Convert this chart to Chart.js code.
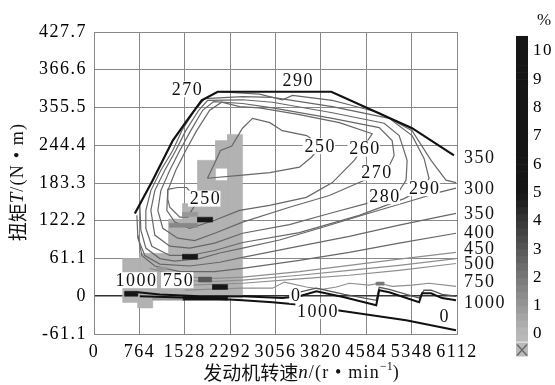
<!DOCTYPE html>
<html><head><meta charset="utf-8">
<script src="https://cdn.jsdelivr.net/npm/chart.js@4/dist/chart.umd.min.js"></script>
<style>html,body{margin:0;padding:0;background:#fff;}#wrap{width:555px;height:385px;}</style>
</head><body><div id="wrap"><canvas id="c" width="555" height="385"></canvas></div>
<script>
// ---- axes ----
const xTicks = [0, 764, 1528, 2292, 3056, 3820, 4584, 5348, 6112];
const yTickValues = [-61.1, 0, 61.1, 122.2, 183.3, 244.4, 305.5, 366.6, 427.7];
const yTickLabels = ['-61.1', '0', '61.1', '122.2', '183.3', '244.4', '355.5', '366.6', '427.7'];
const cbTicks = [0, 1, 2, 3, 4, 5, 6, 7, 8, 9, 10];

// ---- full-load torque curve ----
const maxTqN = [688, 991, 1326, 1561, 1813, 2082, 3996, 5356, 6061];
const maxTqT = [134, 188, 252, 284, 317, 331, 331, 272, 228];

// ---- BSFC contours (g/kWh) ----
const c250aN = [1713, 1561, 1410, 1242, 1242, 1276, 1444, 1578, 1645, 1713, 1713];
const c250aT = [158, 176, 176, 173, 157, 144, 128, 128, 139, 149, 158];
const c250bN = [1910, 2030, 2130, 2320, 2500, 2670, 2960, 3170, 3580, 3830, 3660, 3460, 2960, 2500, 1910];
const c250bT = [191, 215, 236, 243, 272, 288, 281, 268, 260, 244, 225, 209, 200, 196, 191];
const c260N = [2451, 2955, 3576, 4013, 4382, 4500, 4684, 4130, 3459, 2787, 2451, 2149, 1948, 1729, 1545, 1377, 1242, 1226, 1360, 1612, 2032, 2451];
const c260T = [139, 147, 160, 184, 220, 236, 263, 281, 294, 305, 307, 314, 301, 268, 236, 204, 171, 139, 120, 110, 123, 139];
const c270N = [2502, 2032, 1696, 1410, 1159, 1075, 1125, 1276, 1444, 1629, 1830, 2015, 2502, 3005, 4013, 4802, 5020, 5054, 4936, 4466, 3962, 3291, 2502];
const c270T = [120, 102, 90, 94, 110, 139, 171, 204, 236, 268, 301, 315, 312, 305, 288, 273, 252, 228, 204, 184, 163, 144, 120];
const c280N = [2502, 2032, 1612, 1276, 1024, 957, 1024, 1192, 1377, 1545, 1763, 1914, 2502, 3005, 4013, 4886, 5138, 5272, 5255, 5104, 4550, 3962, 3291, 2502];
const c280T = [102, 86, 78, 81, 99, 139, 171, 204, 236, 268, 301, 317, 318, 314, 297, 280, 260, 220, 188, 165, 149, 134, 116, 102];
const c290N = [2502, 2032, 1612, 1276, 974, 873, 873, 957, 1125, 1326, 1478, 1696, 1864, 2502, 3005, 4013, 4970, 5356, 5557, 5641, 5557, 5222, 4466, 3459, 2502];
const c290T = [87, 74, 66, 66, 81, 110, 139, 171, 204, 236, 268, 301, 320, 323, 322, 307, 288, 260, 223, 191, 175, 158, 131, 103, 87];
const c300aN = [2082, 2787, 3173, 3341, 4013, 4298, 4802, 5356, 5675, 5927, 6095];
const c300aT = [331, 327, 318, 325, 317, 310, 297, 268, 220, 188, 184];
const c300bN = [772, 789, 873, 1108, 1360, 1780, 2116, 2502, 3123, 3795, 4684, 5356, 5809, 6095];
const c300bT = [147, 107, 78, 61, 57, 61, 70, 78, 91, 110, 136, 155, 168, 175];
const c350N = [722, 739, 856, 1108, 1612, 2116, 2502, 3459, 4298, 5138, 6095];
const c350T = [131, 94, 66, 52, 49, 55, 63, 81, 97, 115, 134];
const c400N = [739, 806, 1024, 1444, 2032, 2502, 3459, 4298, 5138, 6095];
const c400T = [99, 66, 49, 40, 40, 45, 58, 71, 86, 102];
const c450N = [940, 1444, 2032, 2502, 3459, 4298, 5138, 6095];
const c450T = [45, 32, 29, 31, 40, 50, 60, 71];
const c500N = [1276, 2032, 2502, 3459, 4298, 5138, 6095];
const c500T = [26, 24, 26, 34, 42, 50, 61];
const c500bN = [1612, 2502, 3459, 4298, 5138, 6095];
const c500bT = [18, 21, 28, 34, 42, 53];
const c750N = [1528, 2502, 3005, 3207, 3576, 3845, 4080, 4298, 4634, 4802, 5020, 5356, 5641, 6095];
const c750T = [10, 13, 13, 23, 15, 11, 15, 21, 18, 21, 16, 18, 21, 16];
const c1000N = [3459, 3744, 4214, 4752, 4802, 4970, 5474, 5557, 5675, 5860, 6095];
const c1000T = [6.5, 13, 3, -6.5, 14.5, 11, -3, 9.7, 9.7, 3, 0];
const c0N = [739, 1108, 1780, 2502, 3173, 3459, 3744, 4214, 4752, 4802, 4970, 5474, 5524, 5675, 5860, 6095];
const c0T = [6.5, 3, 0, 0, -3, 0, 8, -1.6, -14.5, 9.7, 6.5, -9.7, 4.8, 4.8, -3, -6.5];
const motorN = [772, 1780, 2502, 3005, 3375, 4097, 5255, 6095];
const motorT = [0, -3, -6.5, -9.7, -13, -22.6, -38.8, -55];

// ---- operating-point time share cells (%) ----
const heatN0 = [2250, 2048, 2048, 1746, 1494, 1259, 772, 487, 739, 487, 990, 1746, 1276, 1494, 1494, 1763, 1998, 520, 1494, 4752, 1058];
const heatN1 = [2502, 2250, 2250, 2048, 1746, 1494, 1259, 772, 990, 739, 1494, 1998, 1746, 1746, 1746, 1981, 2250, 739, 2250, 4886, 1226];
const heatT0 = [-3, 207, -3, -3, -3, -3, -3, -3, -19, -10, -6.5, 120, 111.5, 129, 60, 23, 11, 0, -6.5, 18, 42];
const heatT1 = [262, 252, 187.5, 220, 150, 125, 69.5, 61, 0, 0, 0, 128, 118, 136, 68, 31, 19, 8, 0, 23, 47];
const heatPct = [0.2, 0.2, 0.2, 0.2, 0.2, 0.2, 0.2, 0.2, 0.2, 0.2, 1, 7, 1.5, 1, 10, 3, 9, 10, 6, 2, 1];

// ---- contour labels ----
const inLabelText = ['270', '290', '250', '260', '270', '280', '290', '250', '1000', '750', '0', '1000', '0'];
const inLabelN = [1561, 3425, 3795, 4550, 4752, 4886, 5557, 1864, 705, 1410, 3392, 3761, 5893];
const inLabelT = [335, 349, 243, 239, 200, 162, 175, 158, 26, 26, 1.6, -24, -32];
const rightLabelText = ['350', '300', '350', '400', '450', '500', '750', '1000'];
const rightLabelT = [225, 175, 134, 103, 78, 53, 24, -10];

const SERIF = '"Liberation Serif", "Times New Roman", serif';
const CJK = '"Noto Sans CJK SC", sans-serif';

function grayOf(p) {
  const L = p >= 5 ? 22 : Math.round(185 - p * 32.6);
  return 'rgb(' + L + ',' + L + ',' + L + ')';
}
function pts(ns, ts) { return ns.map((n, i) => ({ x: n, y: ts[i] })); }
function lineDs(ns, ts, color, width, order) {
  return { type: 'line', data: pts(ns, ts), borderColor: color, borderWidth: width,
    pointRadius: 0, fill: false, tension: 0, order: order };
}

const datasets = [];
datasets.push(lineDs(maxTqN, maxTqT, '#111', 2.2, 0));
datasets.push(lineDs(c0N, c0T, '#111', 2, 0));
datasets.push(lineDs(motorN, motorT, '#111', 2, 0));
datasets.push(lineDs(c1000N, c1000T, '#555', 1.3, 1));
const thin = '#676767', light = '#8e8e8e';
[[c250aN, c250aT], [c250bN, c250bT], [c260N, c260T], [c270N, c270T], [c280N, c280T],
 [c290N, c290T], [c300aN, c300aT], [c300bN, c300bT], [c350N, c350T], [c400N, c400T]]
  .forEach(([n, t]) => datasets.push(lineDs(n, t, thin, 1.2, 1)));
[[c450N, c450T], [c500N, c500T], [c500bN, c500bT], [c750N, c750T]]
  .forEach(([n, t]) => datasets.push(lineDs(n, t, light, 1.2, 1)));
heatN0.forEach((n0, i) => {
  const n1 = heatN1[i], t0 = heatT0[i], t1 = heatT1[i];
  datasets.push({ type: 'line', data: pts([n0, n1, n1, n0, n0], [t0, t0, t1, t1, t0]),
    fill: 'shape', backgroundColor: grayOf(heatPct[i]), borderColor: grayOf(heatPct[i]),
    borderWidth: 0.5, pointRadius: 0, tension: 0, order: heatPct[i] > 0.5 ? 0.5 : 5 });
});

function textBox(ctx, text, x, y, bg) {
  ctx.font = '18px ' + SERIF;
  ctx.textAlign = 'center'; ctx.textBaseline = 'middle';
  const w = ctx.measureText(text).width;
  if (bg) { ctx.fillStyle = '#fff'; ctx.fillRect(x - w / 2 - 1, y - 8, w + 1, 16); }
  ctx.fillStyle = '#111';
  ctx.fillText(text, x + 0.75, y + 1);
}
function drawSegs(ctx, segs, cx, cy) {
  let W = 0;
  segs.forEach(s => { ctx.font = s.f; ctx.letterSpacing = s.ls || '0px'; s.w = ctx.measureText(s.t).width; W += s.w; });
  let x = cx - W / 2;
  ctx.textAlign = 'left'; ctx.textBaseline = 'middle'; ctx.fillStyle = '#111';
  segs.forEach(s => { ctx.font = s.f; ctx.letterSpacing = s.ls || '0px'; ctx.fillText(s.t, x, cy + (s.dy || 0)); x += s.w; });
}

const overlay = {
  id: 'overlay',
  beforeDraw(chart) { chart.ctx.letterSpacing = '1.5px'; },
  afterDatasetsDraw(chart) {
    const ctx = chart.ctx, xs = chart.scales.x, ys = chart.scales.y;
    ctx.save();
    ctx.letterSpacing = '1.5px';
    inLabelText.forEach((t, i) => textBox(ctx, t, xs.getPixelForValue(inLabelN[i]), ys.getPixelForValue(inLabelT[i]), true));
    ctx.font = '18px ' + SERIF; ctx.textAlign = 'left'; ctx.textBaseline = 'middle'; ctx.fillStyle = '#111';
    rightLabelText.forEach((t, i) => ctx.fillText(t, chart.chartArea.right + 7, ys.getPixelForValue(rightLabelT[i]) + 1));
    ctx.restore();
  },
  afterDraw(chart) {
    const ctx = chart.ctx, cb = chart.scales.yc;
    ctx.save();
    // colour bar
    const x0 = 516, w = 12;
    for (let v = -0.25; v < 10.55; v += 0.25) {
      const top = cb.getPixelForValue(Math.min(v + 0.25, 10.53)), bot = cb.getPixelForValue(v);
      ctx.fillStyle = grayOf(Math.max(0, v + 0.125));
      ctx.fillRect(x0, top, w, bot - top + 0.6);
    }
    const yb = cb.getPixelForValue(-0.3);
    ctx.fillStyle = grayOf(0); ctx.fillRect(x0, yb, w, 14);
    ctx.strokeStyle = '#666'; ctx.lineWidth = 1.3;
    ctx.beginPath(); ctx.moveTo(x0 + 1, yb + 2); ctx.lineTo(x0 + w - 1, yb + 13);
    ctx.moveTo(x0 + w - 1, yb + 2); ctx.lineTo(x0 + 1, yb + 13); ctx.stroke();
    ctx.letterSpacing = '0px';
    ctx.font = '17px ' + SERIF; ctx.fillStyle = '#111'; ctx.textAlign = 'center'; ctx.textBaseline = 'middle';
    ctx.fillText('%', 544, 21);
    // axis titles
    drawSegs(ctx, [
      { t: '发动机转速', f: '19px ' + CJK },
      { t: 'n', f: 'italic 19px ' + SERIF, ls: '1px' },
      { t: '/(r • min', f: '18px ' + SERIF, ls: '1.2px' },
      { t: '−1', f: '12px ' + SERIF, dy: -6 },
      { t: ')', f: '18px ' + SERIF }
    ], 301, 373);
    ctx.translate(18, 182); ctx.rotate(-Math.PI / 2);
    drawSegs(ctx, [
      { t: '扭矩', f: '19px ' + CJK },
      { t: 'T', f: 'italic 19px ' + SERIF, ls: '1px' },
      { t: '/(N • m)', f: '18px ' + SERIF, ls: '1.2px' }
    ], 0, 0);
    ctx.restore();
  }
};

new Chart(document.getElementById('c'), {
  type: 'line',
  data: { datasets: datasets },
  plugins: [overlay],
  options: {
    responsive: false, animation: false, events: [],
    layout: { padding: { top: 32, right: 0, left: 0, bottom: 0 } },
    plugins: { legend: { display: false }, tooltip: { enabled: false } },
    scales: {
      x: {
        type: 'linear', min: 0, max: 6112,
        afterBuildTicks: s => { s.ticks = xTicks.map(v => ({ value: v })); },
        afterFit: s => { s.height = 51; s.paddingLeft = 0; s.paddingRight = 0; },
        grid: { color: '#888', lineWidth: 1, drawTicks: false },
        border: { color: '#888' },
        ticks: { padding: 7, autoSkip: false, maxRotation: 0, color: '#000',
          font: { family: SERIF, size: 18 }, callback: (v, i) => String(xTicks[i]) }
      },
      y: {
        type: 'linear', min: -61.1, max: 427.7,
        afterBuildTicks: s => { s.ticks = yTickValues.map(v => ({ value: v })); },
        afterFit: s => { s.width = 94; s.paddingTop = 0; s.paddingBottom = 0; },
        grid: { drawTicks: false,
          color: c => (c.tick && c.tick.value === 0) ? '#333' : '#888',
          lineWidth: c => (c.tick && c.tick.value === 0) ? 1.6 : 1 },
        border: { color: '#888' },
        ticks: { padding: 7, autoSkip: false, color: '#000', font: { family: SERIF, size: 18 },
          callback: (v, i) => yTickLabels[i] }
      },
      yc: {
        type: 'linear', position: 'right', min: 0, max: 10.67,
        afterBuildTicks: s => { s.ticks = cbTicks.map(v => ({ value: v })); },
        afterFit: s => { s.width = 98; s.paddingTop = 0; s.paddingBottom = 0; },
        grid: { display: false, drawTicks: false }, border: { display: false },
        ticks: { padding: 76, autoSkip: false, color: '#000', font: { family: SERIF, size: 17 },
          callback: (v, i) => String(cbTicks[i]) }
      }
    }
  }
});
</script></body></html>
